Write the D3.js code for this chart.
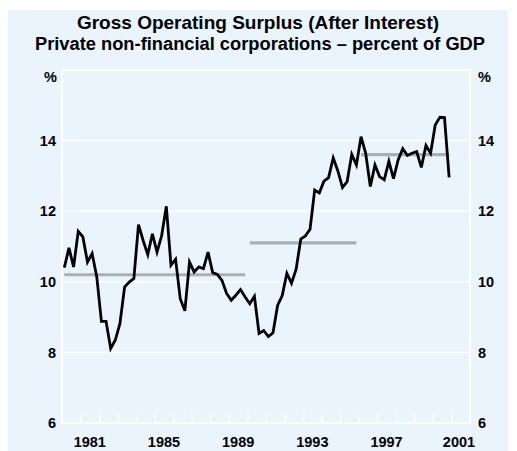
<!DOCTYPE html>
<html>
<head>
<meta charset="utf-8">
<script src="https://cdn.jsdelivr.net/npm/d3@7"></script>
<style>
  html, body { margin: 0; padding: 0; background: #ffffff; }
  svg { display: block; font-family: "Liberation Sans", Arial, sans-serif; font-weight: bold; }
</style>
</head>
<body>
<div id="chart"></div>
<script>
// Quarterly values, 1980 Q1 to 2000 Q4 (percent of GDP)
const startYear = 1980;
const surplus = [
  10.40, 10.96, 10.42, 11.43, 11.27, 10.56, 10.80, 10.14, 8.88, 8.88,
  8.11, 8.35, 8.82, 9.85, 9.99, 10.09, 11.62, 11.17, 10.77, 11.36,
  10.84, 11.31, 12.14, 10.47, 10.64, 9.52, 9.18, 10.56, 10.28, 10.42,
  10.37, 10.84, 10.26, 10.21, 10.04, 9.67, 9.48, 9.62, 9.78, 9.57,
  9.38, 9.59, 8.54, 8.62, 8.45, 8.55, 9.33, 9.61, 10.24, 9.96,
  10.36, 11.21, 11.30, 11.49, 12.60, 12.52, 12.85, 12.95, 13.51, 13.14,
  12.67, 12.84, 13.61, 13.31, 14.11, 13.64, 12.70, 13.31, 12.98, 12.89,
  13.41, 12.92, 13.45, 13.77, 13.58, 13.64, 13.69, 13.24, 13.86, 13.64,
  14.44, 14.66, 14.65, 12.96
];

// Period averages: first year, last year, value
const periodStart = [1980, 1990, 1996];
const periodEnd = [1989, 1995, 2000];
const periodAverage = [10.2, 11.1, 13.6];

const yTicks = [6, 8, 10, 12, 14];
const xLabels = [1981, 1985, 1989, 1993, 1997, 2001];

const width = 517;
const height = 451;
const margin = { top: 70, right: 47, bottom: 28, left: 62 };
const labelSize = 14.5;

const svg = d3
  .select("#chart")
  .append("svg")
  .attr("width", width)
  .attr("height", height);

// Light blue panel behind everything
svg
  .append("rect")
  .attr("x", 8)
  .attr("y", 10)
  .attr("width", 500)
  .attr("height", 441)
  .attr("fill", "#eaf4fd");

const x = d3
  .scaleLinear()
  .domain([1980, 2002])
  .range([margin.left, width - margin.right]);

const y = d3
  .scaleLinear()
  .domain([6, 16])
  .range([height - margin.bottom, margin.top]);

// Titles
svg
  .append("text")
  .attr("x", 258)
  .attr("y", 29)
  .attr("text-anchor", "middle")
  .attr("font-size", 19)
  .text("Gross Operating Surplus (After Interest)");

svg
  .append("text")
  .attr("x", 260)
  .attr("y", 50)
  .attr("text-anchor", "middle")
  .attr("font-size", 18.3)
  .text("Private non-financial corporations \u2013 percent of GDP");

// Horizontal grid lines (white)
svg
  .append("g")
  .selectAll("line")
  .data(yTicks.slice(1))
  .enter()
  .append("line")
  .attr("x1", x(1980))
  .attr("x2", x(2002))
  .attr("y1", (d) => y(d))
  .attr("y2", (d) => y(d))
  .attr("stroke", "#ffffff")
  .attr("stroke-width", 1.5);

// Plot frame
svg
  .append("rect")
  .attr("x", x(1980))
  .attr("y", y(16))
  .attr("width", x(2002) - x(1980))
  .attr("height", y(6) - y(16))
  .attr("fill", "none")
  .attr("stroke", "#ffffff")
  .attr("stroke-width", 2);

// Year ticks on the bottom axis, pointing up
const bottomAxis = d3
  .axisTop(x)
  .tickValues(d3.range(1981, 2002))
  .tickSize(9)
  .tickFormat("");

svg
  .append("g")
  .attr("transform", `translate(0, ${y(6)})`)
  .call(bottomAxis)
  .call((g) => g.select(".domain").remove())
  .call((g) => g.selectAll("line").attr("stroke", "#ffffff").attr("stroke-width", 1.5));

// Year labels centred in each year (last one pulled in a little)
svg
  .append("g")
  .selectAll("text")
  .data(xLabels)
  .enter()
  .append("text")
  .attr("x", (d) => Math.min(x(d + 0.5), 459))
  .attr("y", 447)
  .attr("text-anchor", "middle")
  .attr("font-size", labelSize)
  .text((d) => d);

// Y labels on both sides
const leftAxis = d3.axisLeft(y).tickValues(yTicks).tickSize(0).tickPadding(6);
const rightAxis = d3.axisRight(y).tickValues(yTicks).tickSize(0).tickPadding(8);

const styleLabels = (g) =>
  g.selectAll("text")
    .attr("font-size", labelSize)
    .attr("font-family", "Liberation Sans, Arial, sans-serif")
    .attr("font-weight", "bold")
    .attr("fill", "#000");

svg
  .append("g")
  .attr("transform", `translate(${x(1980)}, 0)`)
  .call(leftAxis)
  .call((g) => g.select(".domain").remove())
  .call(styleLabels);

svg
  .append("g")
  .attr("transform", `translate(${x(2002)}, 0)`)
  .call(rightAxis)
  .call((g) => g.select(".domain").remove())
  .call(styleLabels);

// Unit labels
svg
  .append("text")
  .attr("x", x(1980) - 5)
  .attr("y", 82)
  .attr("text-anchor", "end")
  .attr("font-size", labelSize)
  .text("%");

svg
  .append("text")
  .attr("x", x(2002) + 8)
  .attr("y", 82)
  .attr("font-size", labelSize)
  .text("%");

// Period averages (grey)
svg
  .append("g")
  .selectAll("line")
  .data(periodAverage)
  .enter()
  .append("line")
  .attr("x1", (d, i) => x(periodStart[i] + 0.125))
  .attr("x2", (d, i) => x(periodEnd[i] + 0.875))
  .attr("y1", (d) => y(d))
  .attr("y2", (d) => y(d))
  .attr("stroke", "#a9afb5")
  .attr("stroke-width", 3.2);

// Surplus series, each quarter plotted at its midpoint
const line = d3
  .line()
  .x((d, i) => x(startYear + (i + 0.5) / 4))
  .y((d) => y(d));

svg
  .append("path")
  .datum(surplus)
  .attr("d", line)
  .attr("fill", "none")
  .attr("stroke", "#000000")
  .attr("stroke-width", 2.8);
</script>
</body>
</html>
